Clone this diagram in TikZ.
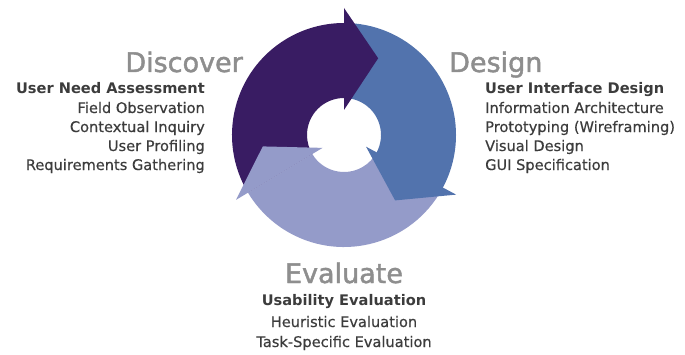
\documentclass[tikz,border=0pt]{standalone}
\usepackage{fontspec}
\setmainfont{DejaVu Sans}
\newfontfamily\phasefont{DejaVu Sans}[FakeBold=1.6]
\newfontfamily\itemfont{DejaVu Sans}[FakeBold=0.4]
\definecolor{discovercol}{HTML}{391C63}
\definecolor{designcol}{HTML}{5273AD}
\definecolor{evalcol}{HTML}{949BC9}
\definecolor{titlegray}{HTML}{8E8E8E}
\definecolor{textgray}{HTML}{3C3C3C}
\tikzset{
  phasetitle/.style={inner sep=0pt, text=titlegray, font=\phasefont\fontsize{27}{30}\selectfont},
  grouphead/.style={inner sep=0pt, text=textgray, font=\fontsize{14.6}{17}\selectfont\bfseries},
  groupitem/.style={inner sep=0pt, text=textgray, font=\itemfont\fontsize{14.6}{17}\selectfont},
}
\begin{document}
\begin{tikzpicture}[x=1pt,y=1pt]
\useasboundingbox (0,0) rectangle (685,354);
\fill[white] (0,0) rectangle (685,354);
\coordinate (c) at (344,219);
% arrow bodies
\fill[discovercol] ([shift={(211:112pt)}]c) arc[start angle=211,end angle=90,radius=112pt]
  -- ([shift={(90:37pt)}]c) arc[start angle=90,end angle=211,radius=37pt] -- cycle;
\fill[designcol] ([shift={(90:112pt)}]c) arc[start angle=90,end angle=-29,radius=112pt]
  -- ([shift={(-29:37pt)}]c) arc[start angle=-29,end angle=90,radius=37pt] -- cycle;
\fill[evalcol] ([shift={(331:112pt)}]c) arc[start angle=331,end angle=211,radius=112pt]
  -- ([shift={(211:37pt)}]c) arc[start angle=211,end angle=331,radius=37pt] -- cycle;
% arrow heads
\fill[discovercol] ([shift={(90:127pt)}]c) -- ([shift={(66:84pt)}]c) -- ([shift={(90:25pt)}]c) -- cycle;
\fill[designcol] ([shift={(-28:127pt)}]c) -- ([shift={(-52:83pt)}]c) -- ([shift={(-28:25pt)}]c) -- cycle;
\fill[evalcol] ([shift={(211:126pt)}]c) -- ([shift={(188:82pt)}]c) -- ([shift={(211:25pt)}]c) -- cycle;
% Discover
\node[phasetitle, anchor=base east] (tdisc) at (243,282) {Discover};
\node[grouphead, anchor=base east] (d1) at (205,260) {User Need Assessment};
\node[groupitem, anchor=base east] (d2) at (205,241) {Field Observation};
\node[groupitem, anchor=base east] (d3) at (205,222) {Contextual Inquiry};
\node[groupitem, anchor=base east] (d4) at (205,203) {User Profiling};
\node[groupitem, anchor=base east] (d5) at (205,184) {Requirements Gathering};
% Design
\node[phasetitle, anchor=base west] (tdes) at (449,282) {Design};
\node[grouphead, anchor=base west] (g1) at (485,260) {User Interface Design};
\node[groupitem, anchor=base west] (g2) at (485,241) {Information Architecture};
\node[groupitem, anchor=base west] (g3) at (485,222) {Prototyping (Wireframing)};
\node[groupitem, anchor=base west] (g4) at (485,203) {Visual Design};
\node[groupitem, anchor=base west] (g5) at (485,184) {GUI Specification};
% Evaluate
\node[phasetitle, anchor=base] (teval) at (344,71) {Evaluate};
\node[grouphead, anchor=base] (e1) at (344,49) {Usability Evaluation};
\node[groupitem, anchor=base] (e2) at (344,27) {Heuristic Evaluation};
\node[groupitem, anchor=base] (e3) at (344,7) {Task-Specific Evaluation};
\end{tikzpicture}
\end{document}
